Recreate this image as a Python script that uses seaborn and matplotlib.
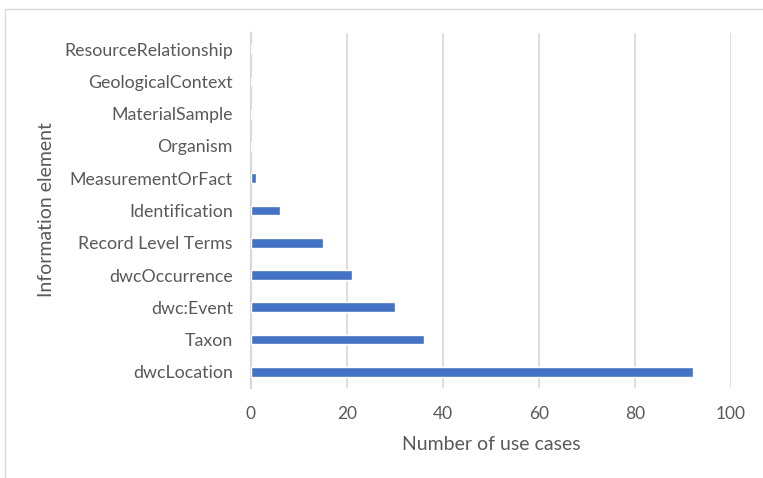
import matplotlib
matplotlib.use("Agg")
import matplotlib.pyplot as plt
from matplotlib.patches import Rectangle
import seaborn as sns
import pandas as pd

categories = [
    "ResourceRelationship", "GeologicalContext", "MaterialSample", "Organism",
    "MeasurementOrFact", "Identification", "Record Level Terms",
    "dwcOccurrence", "dwc:Event", "Taxon", "dwcLocation",
]
use_cases = [0, 0, 0, 0, 1, 6, 15, 21, 30, 36, 92]
x_ticks = [0, 20, 40, 60, 80, 100]

df = pd.DataFrame({"element": categories, "count": use_cases})

sns.set_theme(style="white")
plt.rcParams["font.family"] = ["Lato", "DejaVu Sans"]

text_color = "#595959"
grid_color = "#d9d9d9"
bar_color = "#4472C4"

fig = plt.figure(figsize=(7.63, 4.78), dpi=100)
fig.patch.set_facecolor("white")

# chart area frame
fig.add_artist(Rectangle((5 / 763, -0.05), 1.0, 1 - 9 / 478 + 0.05,
                         transform=fig.transFigure, fill=False,
                         edgecolor=grid_color, linewidth=1.0))

ax = fig.add_axes([251 / 763, 1 - 388 / 478, 480 / 763, 355 / 478])

sns.barplot(data=df, x="count", y="element", color=bar_color,
            saturation=1, width=0.3, ax=ax, zorder=3)

ax.set_xlim(0, 100)
ax.set_xticks(x_ticks)
ax.set_ylim(len(categories) - 0.5, -0.5)

for name, sp in ax.spines.items():
    sp.set_visible(name == "left")
ax.spines["left"].set_color(grid_color)
ax.spines["left"].set_linewidth(1.6)
ax.spines["left"].set_zorder(1)
ax.xaxis.grid(True, color=grid_color, linewidth=1.2, zorder=0)
ax.yaxis.grid(False)
ax.set_axisbelow(True)

ax.tick_params(axis="x", length=0, pad=13, labelsize=12.5, labelcolor=text_color)
ax.tick_params(axis="y", length=0, pad=13, labelsize=12.8, labelcolor=text_color)

ax.set_xlabel("Number of use cases", fontsize=14, color=text_color, labelpad=10)
ax.set_ylabel("Information element", fontsize=14, color=text_color)
ax.yaxis.set_label_coords((47 - 251) / 480, (388 - 210) / 355)
ax.yaxis.label.set_verticalalignment("center")

fig.savefig("out.png", dpi=100)
